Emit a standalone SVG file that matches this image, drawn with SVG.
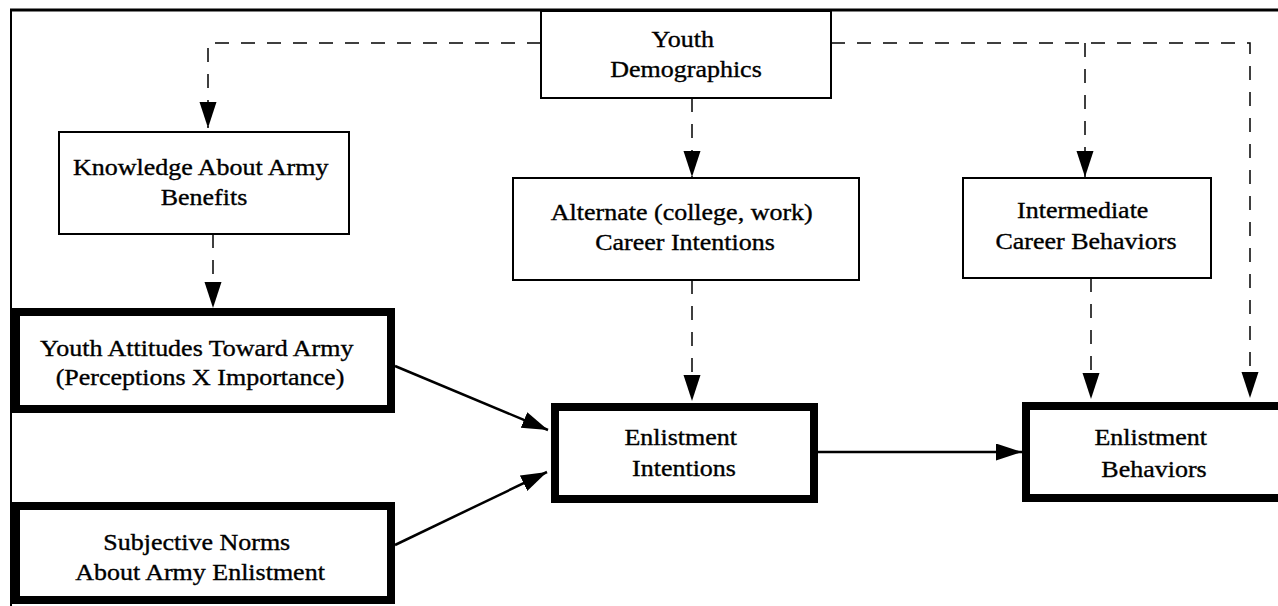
<svg xmlns="http://www.w3.org/2000/svg" width="1278" height="606" viewBox="0 0 1278 606">
  <style>
    .box { fill: #ffffff; stroke: #000000; stroke-width: 2; }
    .key { fill: #ffffff; stroke: #000000; stroke-width: 8; }
    .lbl { font-family: "Liberation Serif", "Times New Roman", serif; font-size: 23px; fill: #000000; stroke: #000000; stroke-width: 0.35; text-anchor: middle; }
    .dash { fill: none; stroke: #000000; stroke-width: 1.5; stroke-dasharray: 14 12; }
    .solid { fill: none; stroke: #000000; stroke-width: 2.5; }
    .frame { fill: none; stroke: #000000; }
  </style>
  <defs>
    <marker id="head" markerUnits="userSpaceOnUse" markerWidth="28" markerHeight="18" refX="26" refY="8.5" orient="auto">
      <path d="M0,0 L26,8.5 L0,17 Z" fill="#000000" stroke="none"/>
    </marker>
  </defs>

  <rect width="1278" height="606" fill="#ffffff"/>

  <!-- outer frame: top rule and left rule -->
  <g id="frame">
    <line class="frame" x1="10" y1="10" x2="1278" y2="10" stroke-width="3"/>
    <line class="frame" x1="11" y1="10" x2="11" y2="606" stroke-width="2"/>
  </g>

  <!-- connectors -->
  <g id="connectors">
    <path class="dash" d="M541,43 H208 V128" marker-end="url(#head)"/>
    <path class="dash" d="M692,98 V177" marker-end="url(#head)"/>
    <path class="dash" d="M831,43 H1250 V398" marker-end="url(#head)"/>
    <path class="dash" d="M1085,43 V177" marker-end="url(#head)"/>
    <path class="dash" d="M213,234 V308" marker-end="url(#head)"/>
    <path class="dash" d="M692,280 V401" marker-end="url(#head)"/>
    <path class="dash" d="M1091,278 V399" marker-end="url(#head)"/>
    <path class="solid" d="M395,366 L548,430" marker-end="url(#head)"/>
    <path class="solid" d="M395,545 L547,472" marker-end="url(#head)"/>
    <path class="solid" d="M818,452 L1022,452" marker-end="url(#head)"/>
  </g>

  <g id="youth-demographics">
    <rect class="box" x="541" y="11" width="290" height="87"/>
    <text class="lbl" transform="translate(686 47) scale(1.13 1)">
      <tspan x="0" y="0">Youth</tspan>
      <tspan x="0" y="30">Demographics</tspan>
    </text>
  </g>

  <g id="knowledge">
    <rect class="box" x="59" y="132" width="290" height="102"/>
    <text class="lbl" transform="translate(204 175) scale(1.13 1)">
      <tspan x="0" y="0">Knowledge About Army</tspan>
      <tspan x="0" y="30">Benefits</tspan>
    </text>
  </g>

  <g id="alternate-intentions">
    <rect class="box" x="513" y="178" width="346" height="102"/>
    <text class="lbl" transform="translate(685 220) scale(1.13 1)">
      <tspan x="0" y="0">Alternate (college, work)</tspan>
      <tspan x="0" y="30">Career Intentions</tspan>
    </text>
  </g>

  <g id="intermediate-behaviors">
    <rect class="box" x="963" y="178" width="248" height="100"/>
    <text class="lbl" transform="translate(1086 218) scale(1.13 1)">
      <tspan x="0" y="0">Intermediate</tspan>
      <tspan x="0" y="31">Career Behaviors</tspan>
    </text>
  </g>

  <g id="attitudes">
    <rect class="key" x="16" y="312" width="375" height="97"/>
    <text class="lbl" transform="translate(200 356) scale(1.13 1)">
      <tspan x="0" y="0">Youth Attitudes Toward Army</tspan>
      <tspan x="0" y="29">(Perceptions X Importance)</tspan>
    </text>
  </g>

  <g id="subjective-norms">
    <rect class="key" x="16" y="506" width="375" height="94"/>
    <text class="lbl" transform="translate(200 550) scale(1.13 1)">
      <tspan x="0" y="0">Subjective Norms</tspan>
      <tspan x="0" y="30">About Army Enlistment</tspan>
    </text>
  </g>

  <g id="enlistment-intentions">
    <rect class="key" x="555" y="407" width="259" height="92"/>
    <text class="lbl" transform="translate(684 445) scale(1.13 1)">
      <tspan x="0" y="0">Enlistment</tspan>
      <tspan x="0" y="31">Intentions</tspan>
    </text>
  </g>

  <g id="enlistment-behaviors">
    <rect class="key" x="1026" y="406" width="256" height="92"/>
    <text class="lbl" transform="translate(1154 445) scale(1.13 1)">
      <tspan x="0" y="0">Enlistment</tspan>
      <tspan x="0" y="32">Behaviors</tspan>
    </text>
  </g>
</svg>
